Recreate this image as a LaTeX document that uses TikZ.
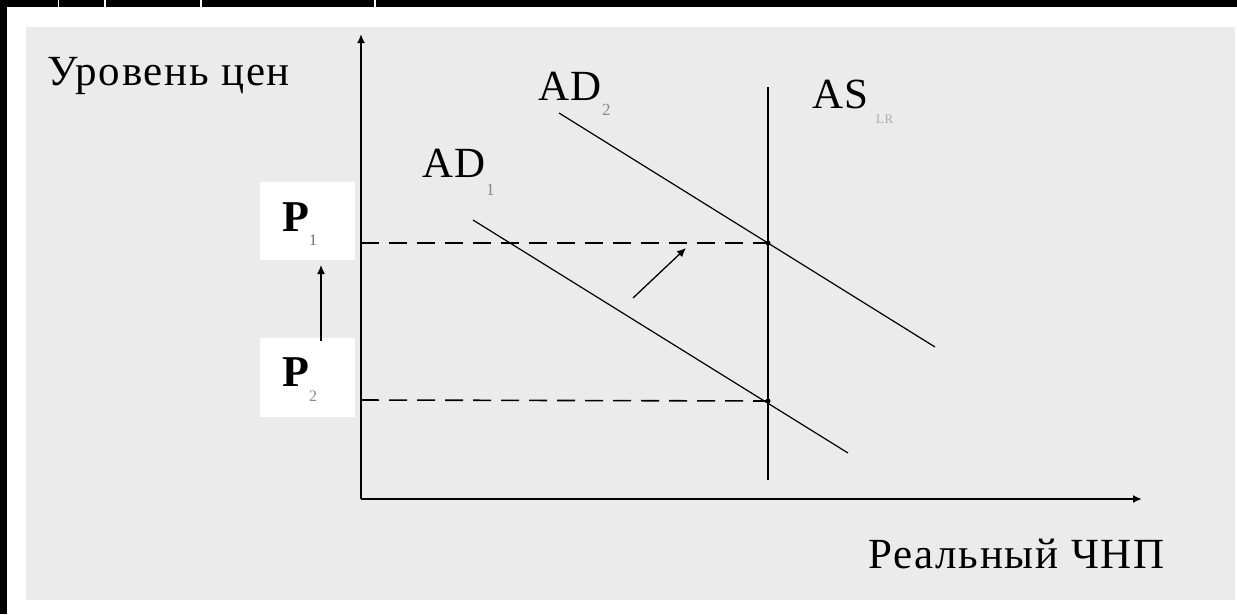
\documentclass[tikz,border=0pt]{standalone}
\usepackage{fontspec}
\setmainfont{Liberation Serif}[LetterSpace=4.0]
\usetikzlibrary{arrows.meta}
\definecolor{bggray}{HTML}{EBEBEB}
\definecolor{subgray}{HTML}{8A8A8A}
\begin{document}
\begin{tikzpicture}[x=1pt,y=-1pt,
  axisline/.style={line width=2pt,-{Latex[length=9pt,width=8pt]}},
  asline/.style={line width=2pt},
  adline/.style={line width=1.2pt},
  dashline/.style={line width=1.6pt,dash pattern=on 18pt off 10pt},
  shiftarrow/.style={line width=1.3pt,-{Latex[length=9pt,width=8pt]}},
  lbl/.style={inner sep=0pt,anchor=base west,font=\fontsize{43}{43}\selectfont},
  plbl/.style={inner sep=0pt,anchor=base west,font=\fontsize{44}{44}\selectfont\bfseries},
  subs/.style={text=subgray},
  dotpt/.style={circle,fill=black,inner sep=0pt,minimum size=5pt},
  whitebox/.style={fill=white,draw=none}]
\useasboundingbox (0,0) rectangle (1237,614);
% frame and background
\fill[white] (0,0) rectangle (1237,614);
\fill[black] (0,0) rectangle (1237,7);
\fill[black] (0,0) rectangle (7,614);
\foreach \tx in {58.5,105,201,375} \draw[white,line width=1.6pt] (\tx,0) -- (\tx,7);
\fill[bggray] (26,27) rectangle (1235,600);
% white boxes behind prices
\fill[whitebox] (260,182) rectangle (355,260);
\fill[whitebox] (260,338) rectangle (355,417);
% coordinates
\coordinate (O) at (361,499);
\coordinate (ytop) at (361,34);
\coordinate (xend) at (1142,499);
\coordinate (AStop) at (768,87);
\coordinate (ASbot) at (768,480);
\coordinate (AD2s) at (559,113);
\coordinate (AD2e) at (935,347);
\coordinate (AD1s) at (473,220);
\coordinate (AD1e) at (848,453);
\coordinate (yP1) at (361,243);
\coordinate (yP2) at (361,400);
\coordinate (shs) at (633,298);
\coordinate (she) at (686,248);
\coordinate (pas) at (321,341);
\coordinate (pae) at (321,265);
% equilibrium points
\node[dotpt] (E1) at (768,243) {};
\node[dotpt] (E2) at (768,401) {};
% dashed price lines
\draw[dashline] (yP1) -- (E1.center);
\draw[dashline] (yP2) -- (E2.center);
% curves
\draw[adline] (AD2s) -- (AD2e);
\draw[adline] (AD1s) -- (AD1e);
\draw[asline] (AStop) -- (ASbot);
% axes
\draw[axisline] (O) -- (ytop);
\draw[axisline] (O) -- (xend);
% arrows
\draw[shiftarrow] (shs) -- (she);
\draw[shiftarrow] (pas) -- (pae);
% labels
\node[lbl] (ylab) at (47,85) {Уровень цен};
\node[lbl] (xlab) at (868,568) {Реальный ЧНП};
\node[lbl] (ad1) at (422,177) {AD\raisebox{-18pt}{\fontsize{17}{17}\selectfont\color{subgray}1}};
\node[lbl] (ad2) at (538,100) {AD\raisebox{-15pt}{\fontsize{17}{17}\selectfont\color{subgray}2}};
\node[lbl] (as) at (812,108) {AS\,\raisebox{-15pt}{\fontsize{13}{13}\selectfont\color{subgray!70}LR}};
\node[plbl] (p1) at (282,231) {P\raisebox{-14pt}{\fontsize{16}{16}\selectfont\mdseries\color{subgray!80!black}1}};
\node[plbl] (p2) at (282,386) {P\raisebox{-15pt}{\fontsize{16}{16}\selectfont\mdseries\color{subgray}2}};
\end{tikzpicture}
\end{document}
